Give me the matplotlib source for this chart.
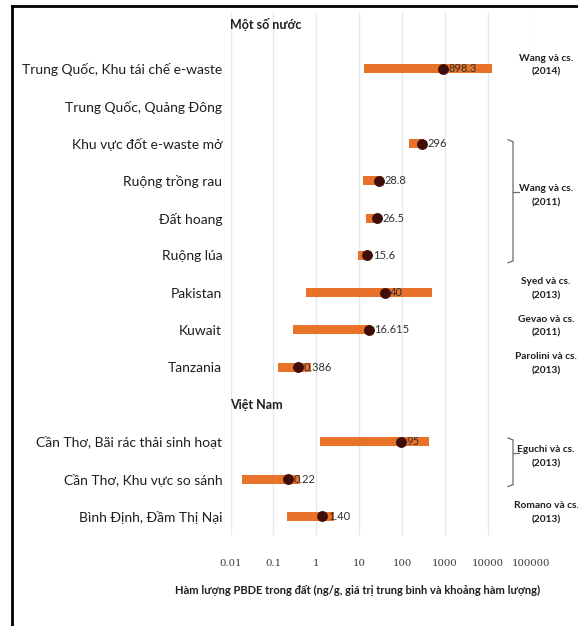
import matplotlib
matplotlib.use("Agg")
import matplotlib.pyplot as plt
from matplotlib.lines import Line2D
from matplotlib.patches import Rectangle
from matplotlib.transforms import blended_transform_factory

plt.rcParams["font.family"] = ["Lato", "Noto Sans", "DejaVu Sans"]

# row 0 and row 10 are group headers
rows = [
    "", "Trung Quốc, Khu tái chế e-waste", "Trung Quốc, Quảng Đông",
    "Khu vực đốt e-waste mở", "Ruộng trồng rau", "Đất hoang", "Ruộng lúa",
    "Pakistan", "Kuwait", "Tanzania", "",
    "Cần Thơ, Bãi rác thải sinh hoạt", "Cần Thơ, Khu vực so sánh",
    "Bình Định, Đầm Thị Nại",
]
headers = {0: "Một số nước", 10: "Việt Nam"}

# measured rows: mean and min-max range (ng/g)
data_rows = [1, 3, 4, 5, 6, 7, 8, 9, 11, 12, 13]
means = [898.3, 296, 28.8, 26.5, 15.6, 40, 16.615, 0.386, 95, 0.22, 1.40]
mean_labels = ["898.3", "296", "28.8", "26.5", "15.6", "40", "16.615",
               "0.386", "95", "0.22", "1.40"]
range_lo = [13.3, 150, 12.3, 14.2, 9.5, 0.58, 0.29, 0.13, 1.2, 0.019, 0.21]
range_hi = [12400, 330, 34, 31, 18, 500, 19, 0.77, 430, 0.42, 2.6]

xticks = [0.01, 0.1, 1, 10, 100, 1000, 10000, 100000]
xtick_labels = ["0.01", "0.1", "1", "10", "100", "1000", "10000", "100000"]

# references: (text, first row, last row, bracketed)
refs = [
    ("Wang và cs.\n(2014)", 1, 1, False),
    ("Wang và cs.\n(2011)", 3, 6, True),
    ("Syed và cs.\n(2013)", 7, 7, False),
    ("Gevao và cs.\n(2011)", 8, 8, False),
    ("Parolini và cs.\n(2013)", 9, 9, False),
    ("Eguchi và cs.\n(2013)", 11, 12, True),
    ("Romano và cs.\n(2013)", 13, 13, False),
]

W, H = 578, 626
fig = plt.figure(figsize=(W / 100, H / 100), dpi=100)
ax = fig.add_axes([230.5 / W, 1 - 535 / H, 300 / W, 522 / H])

ax.barh(data_rows, [h - l for l, h in zip(range_lo, range_hi)], left=range_lo,
        height=0.24, color="#E8722A", zorder=2)
ax.plot(means, data_rows, "o", ms=6.8, color="#3E0F0A", zorder=3)
for m, r, lab in zip(means, data_rows, mean_labels):
    ax.annotate(lab, (m, r), xytext=(3.8, 0), textcoords="offset points",
                ha="left", va="center", fontsize=8, color="#303030", zorder=4)

ax.set_xscale("log")
ax.set_xlim(xticks[0], xticks[-1])
ax.set_ylim(len(rows) - 0.5, -0.5)
ax.set_xticks(xticks)
ax.set_xticklabels(xtick_labels, family="DejaVu Serif", fontsize=7.3,
                   color="#3a3a3a")
ax.minorticks_off()
ax.set_yticks(range(len(rows)))
ax.set_yticklabels(rows, fontsize=10, color="#1e1e1e")
ax.tick_params(axis="x", length=0, pad=17)
ax.tick_params(axis="y", length=0, pad=6)
ax.grid(True, axis="x", color="#E4EAEC", linewidth=1, zorder=0)
ax.set_axisbelow(True)
for s in ax.spines.values():
    s.set_visible(False)

for r, txt in headers.items():
    ax.text(xticks[0], r - (0.2 if r == 0 else 0), txt, ha="left", va="center",
            fontsize=9, fontweight="bold", color="#1e1e1e")

# white strip behind the reference notes
fig.add_artist(Rectangle((514 / W, 1 - 536 / H), 1, (536 - 47) / H,
                         transform=fig.transFigure,
                         facecolor="white", edgecolor="none", zorder=1))

tr = blended_transform_factory(fig.transFigure, ax.transData)
for txt, r0, r1, bracket in refs:
    mid = (r0 + r1) / 2
    if bracket:
        top, bot = r0 - 0.1, r1 + 0.2
        xb = 513 / W
        fig.add_artist(Line2D([508 / W, xb, xb, 508 / W], [top, top + 0.05, bot - 0.05, bot],
                              transform=tr, color="#6b6b6b", lw=0.9, zorder=2))
        fig.add_artist(Line2D([xb, 519 / W], [mid - 0.2, mid - 0.2],
                              transform=tr, color="#6b6b6b", lw=0.9, zorder=2))
    fig.text(546 / W, mid - 0.1, txt, transform=tr, ha="center", va="center",
             fontsize=7.3, fontweight="bold", color="#1e1e1e", linespacing=1.7,
             zorder=3)

fig.text(358 / W, 1 - 590 / H,
         "Hàm lượng PBDE trong đất (ng/g, giá trị trung bình và khoảng hàm lượng)",
         ha="center", va="center", fontsize=8, fontweight="bold", color="#1e1e1e")

# frame edges on the left and top
fig.add_artist(Line2D([12 / W, 12 / W], [0, 1 - 6 / H], transform=fig.transFigure,
                      color="black", lw=2))
fig.add_artist(Line2D([12 / W, 1], [1 - 6 / H, 1 - 6 / H], transform=fig.transFigure,
                      color="black", lw=2))

fig.savefig("out.png", dpi=100)
